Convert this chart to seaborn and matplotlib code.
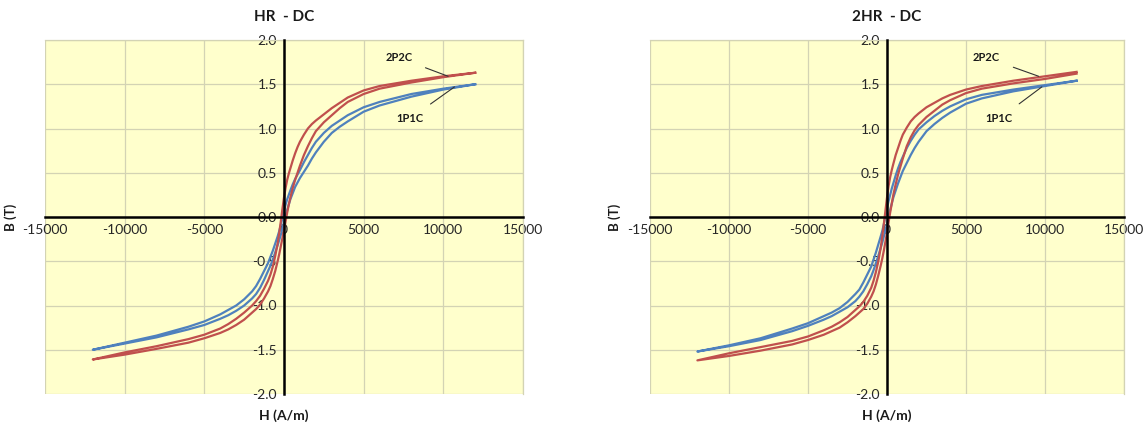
import numpy as np
import pandas as pd
import matplotlib
matplotlib.use("Agg")
import matplotlib.pyplot as plt
import seaborn as sns

# ---------------- data ----------------
H_GRID = [-12000, -10000, -8000, -6000, -5000, -4000, -3500, -3000, -2500, -2000,
          -1750, -1500, -1250, -1000, -850, -700, -550, -400, -300, -200, -100,
          0, 100, 200, 300, 400, 550, 700, 850, 1000, 1250, 1500, 1750, 2000,
          2500, 3000, 3500, 4000, 5000, 6000, 8000, 10000, 12000]

# Panel "HR - DC"
HR_2P2C_DESC = [-1.61, -1.53, -1.46, -1.38, -1.33, -1.26, -1.21, -1.15, -1.08, -1.00,
                -0.95, -0.89, -0.81, -0.72, -0.65, -0.56, -0.44, -0.30, -0.18, -0.05, 0.09,
                0.22, 0.33, 0.42, 0.49, 0.55, 0.64, 0.72, 0.79, 0.85, 0.93, 1.00, 1.05, 1.09,
                1.16, 1.23, 1.29, 1.35, 1.43, 1.48, 1.54, 1.59, 1.63]
HR_2P2C_ASC = [-1.62, -1.555, -1.49, -1.42, -1.37, -1.31, -1.27, -1.22, -1.16, -1.08,
               -1.04, -0.99, -0.92, -0.84, -0.78, -0.70, -0.61, -0.50, -0.42, -0.33, -0.24,
               -0.15, -0.05, 0.05, 0.14, 0.22, 0.33, 0.42, 0.50, 0.58, 0.70, 0.80, 0.89, 0.97,
               1.07, 1.15, 1.23, 1.30, 1.39, 1.45, 1.52, 1.58, 1.63]
HR_1P1C_DESC = [-1.50, -1.42, -1.34, -1.24, -1.18, -1.10, -1.05, -1.00, -0.93, -0.84,
                -0.78, -0.70, -0.61, -0.52, -0.45, -0.38, -0.30, -0.22, -0.16, -0.09, -0.01,
                0.07, 0.14, 0.20, 0.25, 0.30, 0.37, 0.43, 0.48, 0.53, 0.62, 0.70, 0.78, 0.85,
                0.95, 1.03, 1.09, 1.15, 1.24, 1.30, 1.39, 1.45, 1.50]
HR_1P1C_ASC = [-1.51, -1.43, -1.36, -1.27, -1.22, -1.15, -1.11, -1.06, -1.00, -0.92,
               -0.87, -0.80, -0.71, -0.61, -0.55, -0.48, -0.40, -0.32, -0.26, -0.20, -0.14,
               -0.07, 0.01, 0.08, 0.14, 0.20, 0.27, 0.34, 0.39, 0.44, 0.51, 0.58, 0.66, 0.73,
               0.85, 0.95, 1.02, 1.08, 1.19, 1.26, 1.36, 1.44, 1.50]

# Panel "2HR - DC"
HR2_2P2C_DESC = [-1.62, -1.54, -1.47, -1.40, -1.35, -1.28, -1.24, -1.19, -1.13, -1.05,
                 -1.01, -0.96, -0.89, -0.80, -0.72, -0.62, -0.50, -0.35, -0.22, -0.08, 0.07,
                 0.22, 0.35, 0.45, 0.53, 0.60, 0.70, 0.78, 0.86, 0.93, 1.01, 1.08, 1.13, 1.17,
                 1.24, 1.29, 1.34, 1.38, 1.44, 1.48, 1.54, 1.59, 1.64]
HR2_2P2C_ASC = [-1.64, -1.57, -1.51, -1.44, -1.39, -1.33, -1.29, -1.25, -1.19, -1.12,
                -1.08, -1.04, -0.98, -0.90, -0.84, -0.76, -0.66, -0.55, -0.47, -0.38, -0.28,
                -0.18, -0.06, 0.05, 0.15, 0.25, 0.37, 0.48, 0.57, 0.66, 0.80, 0.90, 0.98, 1.04,
                1.13, 1.20, 1.27, 1.32, 1.40, 1.45, 1.51, 1.56, 1.62]
HR2_1P1C_DESC = [-1.52, -1.45, -1.37, -1.26, -1.20, -1.12, -1.08, -1.03, -0.96, -0.87,
                 -0.82, -0.74, -0.65, -0.56, -0.48, -0.40, -0.31, -0.22, -0.16, -0.08, 0.01,
                 0.10, 0.18, 0.25, 0.32, 0.38, 0.47, 0.55, 0.62, 0.68, 0.78, 0.86, 0.93, 0.99,
                 1.07, 1.14, 1.20, 1.25, 1.33, 1.38, 1.44, 1.49, 1.54]
HR2_1P1C_ASC = [-1.53, -1.46, -1.39, -1.29, -1.23, -1.16, -1.12, -1.07, -1.02, -0.95,
                -0.90, -0.84, -0.76, -0.67, -0.60, -0.52, -0.44, -0.35, -0.29, -0.22, -0.15,
                -0.08, 0.00, 0.08, 0.15, 0.22, 0.30, 0.38, 0.45, 0.52, 0.61, 0.70, 0.78, 0.85,
                0.97, 1.05, 1.12, 1.18, 1.28, 1.34, 1.42, 1.48, 1.54]

PANEL_TITLES = ["HR  - DC", "2HR  - DC"]
SAMPLES = ["1P1C", "2P2C"]
X_TICKS = [-15000, -10000, -5000, 0, 5000, 10000, 15000]
Y_TICKS = [-2.0, -1.5, -1.0, -0.5, 0.0, 0.5, 1.0, 1.5, 2.0]

# annotation positions (text H, text B, curve H, curve B)
ANN_2P2C = [(7200, 1.80, 10300, 1.59), (6300, 1.80, 9600, 1.59)]
ANN_1P1C = [(7900, 1.11, 10700, 1.47), (7100, 1.11, 9800, 1.47)]

# ---------------- build long-form table ----------------
rows = []
branch_sets = [
    {"1P1C": (HR_1P1C_DESC, HR_1P1C_ASC), "2P2C": (HR_2P2C_DESC, HR_2P2C_ASC)},
    {"1P1C": (HR2_1P1C_DESC, HR2_1P1C_ASC), "2P2C": (HR2_2P2C_DESC, HR2_2P2C_ASC)},
]
for p, title in enumerate(PANEL_TITLES):
    for s in SAMPLES:
        desc, asc = branch_sets[p][s]
        assert len(desc) == len(H_GRID) and len(asc) == len(H_GRID)
        # descending branch from +Hmax to -Hmax, then ascending back
        H_loop = list(reversed(H_GRID)) + H_GRID[1:]
        B_loop = list(reversed(desc)) + asc[1:]
        for i, (h, b) in enumerate(zip(H_loop, B_loop)):
            rows.append({"panel": title, "sample": s, "order": i, "H": h, "B": b})
df = pd.DataFrame(rows)

# ---------------- style ----------------
plt.rcParams["font.family"] = ["Lato", "DejaVu Sans"]
plt.rcParams["axes.unicode_minus"] = False

palette = {"1P1C": "#4f81bd", "2P2C": "#c0504d"}
bg = "#ffffcc"
grid_c = "#d3d3b4"

fig = plt.figure(figsize=(11.45, 4.26), dpi=100)
positions = [[45 / 1145, 32 / 426, 478 / 1145, 354 / 426],
             [650 / 1145, 32 / 426, 474 / 1145, 354 / 426]]
ylab_x = [-0.058, -0.062]

for p, title in enumerate(PANEL_TITLES):
    ax = fig.add_axes(positions[p])
    ax.set_facecolor(bg)
    sub = df[df["panel"] == title]
    sns.lineplot(data=sub, x="H", y="B", hue="sample", units="sample",
                 estimator=None, sort=False, palette=palette, legend=False,
                 linewidth=1.6, ax=ax)
    ax.set_xlim(-15000, 15000)
    ax.set_ylim(-2.0, 2.0)
    ax.set_xticks(X_TICKS)
    ax.set_yticks(Y_TICKS)
    ax.set_xticklabels([str(v) for v in X_TICKS])
    ax.set_yticklabels([f"{v:.1f}" for v in Y_TICKS])
    ax.grid(True, color=grid_c, linewidth=0.9)
    ax.set_axisbelow(True)

    for side in ["left", "bottom"]:
        ax.spines[side].set_position(("data", 0))
        ax.spines[side].set_color("black")
        ax.spines[side].set_linewidth(1.8)
        ax.spines[side].set_zorder(3)
    for side in ["top", "right"]:
        ax.spines[side].set_color(grid_c)
        ax.spines[side].set_linewidth(0.9)

    ax.tick_params(axis="both", length=0, labelsize=10, labelcolor="#262626")
    ax.tick_params(axis="y", pad=5)
    ax.tick_params(axis="x", pad=5)

    ax.set_title(title, fontsize=11, fontweight="bold", y=1.03, color="#1a1a1a")
    ax.set_xlabel("H (A/m)", fontsize=10, fontweight="bold", color="#1a1a1a")
    ax.set_ylabel("B (T)", fontsize=9.5, fontweight="bold", color="#1a1a1a")
    ax.xaxis.set_label_coords(0.5, -0.042)
    ax.yaxis.set_label_coords(ylab_x[p], 0.5)

    tx, ty, px, py = ANN_2P2C[p]
    ax.annotate("2P2C", xy=(px, py), xytext=(tx, ty), fontsize=8, fontweight="bold",
                ha="center", va="center", color="#1a1a1a",
                arrowprops=dict(arrowstyle="-", color="#333333", lw=0.8,
                                shrinkA=8, shrinkB=0))
    tx, ty, px, py = ANN_1P1C[p]
    ax.annotate("1P1C", xy=(px, py), xytext=(tx, ty), fontsize=8, fontweight="bold",
                ha="center", va="center", color="#1a1a1a",
                arrowprops=dict(arrowstyle="-", color="#333333", lw=0.8,
                                shrinkA=8, shrinkB=0))

fig.savefig("out.png", dpi=100, facecolor="white")
